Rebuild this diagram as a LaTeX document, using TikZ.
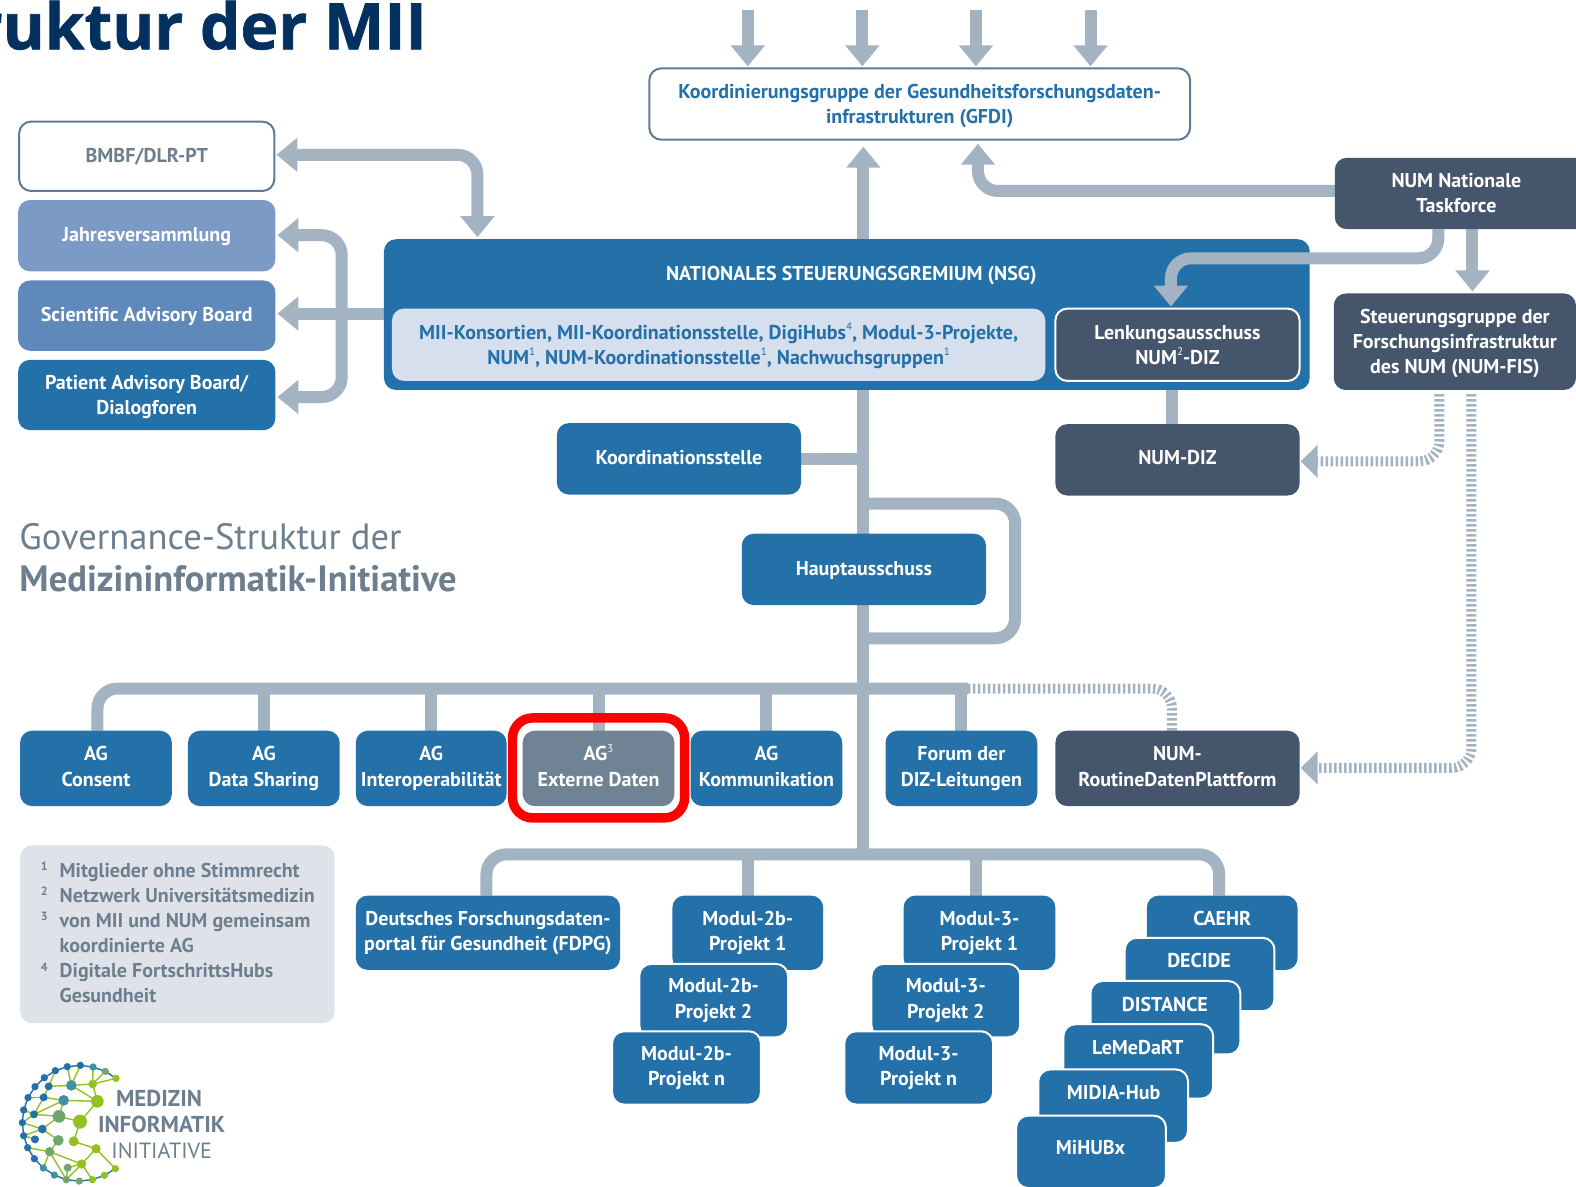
\documentclass[tikz,border=0pt]{standalone}
\usepackage{fontspec}
\setmainfont{PT Sans}
\newfontfamily\ttlfont[BoldFeatures={FakeBold=1}]{Open Sans}
\usetikzlibrary{arrows.meta,backgrounds}
\definecolor{mblue}{HTML}{2470A9}
\definecolor{mdark}{HTML}{45556C}
\definecolor{mgrey}{HTML}{6F8395}
\definecolor{mconn}{HTML}{A3B3C2}
\definecolor{mtext}{HTML}{6D7F8F}
\definecolor{mnavy}{HTML}{03305F}
\definecolor{mpale}{HTML}{D5DFEE}
\definecolor{mnote}{HTML}{DFE3E9}
\definecolor{mjahr}{HTML}{7C9AC6}
\definecolor{msab}{HTML}{5F88BB}
\definecolor{mline}{HTML}{5F7B93}
\definecolor{lteal}{HTML}{43909F}
\definecolor{lsage}{HTML}{6FA56F}
\definecolor{llime}{HTML}{94C11F}
\newcommand{\mys}{\rule{0pt}{9.5pt}}
\newcommand{\mye}{\rule[-3.5pt]{0pt}{1pt}}
\newcommand{\mya}{\rule[-2.5pt]{0pt}{1pt}}
\newcommand{\lft}{\rule[-4.5pt]{0pt}{1pt}}
\newcommand{\sups}[1]{\smash{\raisebox{0.42em}{\fontsize{5.5}{5.5}\selectfont\mdseries #1}}}
\newcommand{\bx}[7][]{%
  \pgfmathsetmacro{\cxx}{(#3+#5)/2}%
  \pgfmathsetmacro{\cyy}{(#4+#6)/2}%
  \pgfmathsetmacro{\www}{(#5-#3)*0.5025}%
  \pgfmathsetmacro{\hhh}{(#6-#4)*0.5025}%
  \node[basebox,minimum width=\www pt,minimum height=\hhh pt,#1] (#2) at (\cxx,\cyy) {#7};}
\tikzset{
  basebox/.style={rounded corners=6pt,inner sep=0pt,outer sep=0pt,align=center,text=white,fill=mblue,
    font=\fontsize{10}{12.6}\selectfont\bfseries},
  lbl/.style={text=white,inner sep=0pt,align=center,font=\fontsize{10}{12.6}\selectfont\bfseries},
  darkbox/.style={fill=mdark},
  wbord/.style={draw=white,line width=1pt},
  conn/.style={draw=mconn,line width=6pt,rounded corners=10pt},
  arr/.style={conn,-{Triangle[width=16.5pt,length=10.5pt]},shorten >=1pt},
  arrb/.style={conn,{Triangle[width=16.5pt,length=10.5pt]}-{Triangle[width=16.5pt,length=10.5pt]},shorten >=1pt,shorten <=1pt},
  stripe/.style={draw=mconn,line width=5pt,rounded corners=10pt,dash pattern=on 1.25pt off 1.25pt},
  striparr/.style={stripe,-{Triangle[width=16pt,length=8.5pt]},shorten >=0.5pt},
}
\begin{document}
\begin{tikzpicture}[x=0.5025pt,y=-0.5025pt]
\useasboundingbox (0,0) rectangle (1568,1180);
\clip (0,0) rectangle (1568,1180);
% title
\node[anchor=base east,inner sep=0pt,text=mnavy,font=\fontsize{32}{33}\selectfont\ttlfont\bfseries] (maintitle) at (425,49) {ruktur der MII};
\node[anchor=base west,inner sep=0pt,text=mtext,font=\fontsize{18.3}{20}\selectfont] (sub1) at (19,547) {Governance-Struktur der};
\node[anchor=base west,inner sep=0pt,text=mtext,font=\fontsize{18.3}{20}\selectfont\bfseries] (sub2) at (19,588) {Medizininformatik-Initiative};
% boxes
\bx[fill=white,draw=mline,line width=1pt,text=mblue]{gfdi}{646}{68}{1184}{139}{\mys Koordinierungsgruppe der Gesundheitsforschungsdaten-\\infrastrukturen (GFDI)\mya}
\bx[fill=white,draw=mline,line width=1pt,text=mtext]{bmbf}{19}{121}{273}{190}{\mys BMBF/DLR-PT\mye}
\bx[fill=mjahr]{jahr}{18}{199}{274}{270}{\mys Jahresversammlung\mye}
\bx[fill=msab]{sab}{18}{279}{274}{349}{\mys Scientific Advisory Board\mye}
\bx{pab}{18}{358}{274}{428}{\mys Patient Advisory Board/\\Dialogforen\mya}
\bx{nsg}{382}{238}{1303}{388}{}
\node[lbl] (nsgtitle) at (847,274) {NATIONALES STEUERUNGSGREMIUM (NSG)};
\bx[fill=mpale,text=mblue]{mem}{390}{307}{1040}{379}{\mys MII-Konsortien, MII-Koordinationsstelle, DigiHubs\sups{4}, Modul-3-Projekte,\\NUM\sups{1}, NUM-Koordinationsstelle\sups{1}, Nachwuchsgruppen\sups{1}\mya}
\bx[darkbox,wbord]{lenk}{1050}{307}{1293}{379}{\mys Lenkungsausschuss\\NUM\sups{2}-DIZ\mya}
\bx[darkbox]{task}{1328}{157}{1580}{228}{}
\node[lbl] (tasklabel) at (1449,193) {\mys NUM Nationale\\Taskforce\mye};
\bx[darkbox]{fis}{1327}{292}{1568}{388}{\mys Steuerungsgruppe der\\Forschungsinfrastruktur\\des NUM (NUM-FIS)\mya}
\bx{koord}{554}{421}{797}{492}{\mys Koordinationsstelle\mye}
\bx[darkbox]{diz}{1050}{422}{1293}{493}{\mys NUM-DIZ\lft}
\bx{haupt}{738}{531}{981}{602}{\mys Hauptausschuss\mye}
\bx{ag1}{20}{727}{171}{802}{\mys AG\\Consent\lft}
\bx{ag2}{187}{727}{338}{802}{\mys AG\\Data Sharing\lft}
\bx{ag3}{354}{727}{504}{802}{\mys AG\\Interoperabilität\lft}
\bx[fill=mgrey]{ag4}{520}{727}{671}{802}{\mys AG\sups{3}\\Externe Daten\lft}
\node[draw=red,line width=4.7pt,rounded corners=10pt,inner sep=0pt,minimum width=86pt,minimum height=50pt] (hilite) at (595.5,764) {};
\bx{ag5}{687}{727}{838}{802}{\mys AG\\Kommunikation\lft}
\bx{forum}{881}{727}{1032}{802}{\mys Forum der\\DIZ-Leitungen\lft}
\bx[darkbox]{rdp}{1050}{727}{1293}{802}{\mys NUM-\\RoutineDatenPlattform\lft}
% footnotes
\bx[fill=mnote]{notes}{20}{841}{333}{1018}{}
\node[anchor=north west,align=left,inner sep=0pt,text=mtext,font=\fontsize{10}{12.56}\selectfont\bfseries] (notetext) at (59,858) {Mitglieder ohne Stimmrecht\\Netzwerk Universitätsmedizin\\von MII und NUM gemeinsam\\koordinierte AG\\Digitale FortschrittsHubs\\Gesundheit};
\tikzset{notenum/.style={inner sep=0pt,text=mtext,font=\fontsize{6}{6}\selectfont\bfseries}}
\node[notenum] (n1) at (44,862) {1};
\node[notenum] (n2) at (44,887) {2};
\node[notenum] (n3) at (44,912) {3};
\node[notenum] (n4) at (44,962) {4};
% lower blocks
\bx{fdpg}{354}{891}{617}{965}{\mys Deutsches Forschungsdaten-\\portal für Gesundheit (FDPG)\lft}
\bx{m2a}{669}{891}{819}{965}{\mys Modul-2b-\\Projekt 1\lft}
\bx[wbord]{m2b}{636}{959}{784}{1032}{\mys Modul-2b-\\Projekt 2\lft}
\bx[wbord]{m2n}{609}{1026}{757}{1099}{\mys Modul-2b-\\Projekt n\lft}
\bx{m3a}{899}{891}{1050}{965}{\mys Modul-3-\\Projekt 1\lft}
\bx[wbord]{m3b}{867}{959}{1015}{1032}{\mys Modul-3-\\Projekt 2\lft}
\bx[wbord]{m3n}{840}{1026}{988}{1099}{\mys Modul-3-\\Projekt n\lft}
\bx{caehr}{1141}{891}{1291}{965}{}
\node[lbl] (caehrl) at (1216,914) {CAEHR};
\bx[wbord]{decide}{1119}{933}{1268}{1006}{}
\node[lbl] (decidel) at (1193,956) {DECIDE};
\bx[wbord]{distance}{1085}{976}{1234}{1049}{}
\node[lbl] (distl) at (1159,999) {DISTANCE};
\bx[wbord]{lemed}{1058}{1019}{1207}{1093}{}
\node[lbl] (lemedl) at (1132,1042) {LeMeDaRT};
\bx[wbord]{midia}{1033}{1064}{1182}{1137}{}
\node[lbl] (midial) at (1108,1087) {MIDIA-Hub};
\bx[wbord]{mihub}{1011}{1110}{1160}{1182}{}
\node[lbl] (mihubl) at (1085,1142) {MiHUBx};
% free ends and way points
\coordinate (t1) at (744,10);
\coordinate (t2) at (858,10);
\coordinate (t3) at (971,10);
\coordinate (t4) at (1085,10);
\coordinate (tx) at (859,0);
\coordinate (busa) at (0,685);
\coordinate (busb) at (0,850);
\begin{scope}[on background layer]
\draw[arr] (t1) -- (t1 |- gfdi.north);
\draw[arr] (t2) -- (t2 |- gfdi.north);
\draw[arr] (t3) -- (t3 |- gfdi.north);
\draw[arr] (t4) -- (t4 |- gfdi.north);
\draw[arr,shorten >=3.5pt] (nsg.north -| tx) -- (gfdi.south -| tx);
\draw[arr,shorten >=2pt] (task.west |- 0,190) -- (973,190) -- (973,139);
\draw[arrb] (bmbf.east |- 0,154) -- (475,154) -- (475,238);
\draw[arrb] (jahr.east |- 0,234) -- (340,234) -- (340,395) -- (pab.east |- 0,395);
\draw[arr] (nsg.west |- 0,312) -- (sab.east |- 0,312);
\draw[arr] (1465,228) -- (1465,292);
\draw[conn] (1166,379) -- (1166,422);
\draw[conn] (nsg.south -| tx) -- (tx |- busb);
\draw[conn] (koord.east) -- (koord.east -| tx);
\draw[conn] (859,501) -- (1010,501) -- (1010,635) -- (859,635);
\draw[conn] (ag1.north -| 0,0) ++(97,0) -- (97,685) -- (963,685);
\draw[conn] (ag2.north) -- (ag2.north |- busa);
\draw[conn] (ag3.north) -- (ag3.north |- busa);
\draw[conn] (ag4.north) -- (ag4.north |- busa);
\draw[conn] (ag5.north) -- (ag5.north |- busa);
\draw[conn] (forum.north) -- (forum.north |- busa);
\draw[conn] (484,891) -- (484,850) -- (1213,850) -- (1213,891);
\draw[conn] (m2a.north) -- (m2a.north |- busb);
\draw[conn] (971,891) -- (971,850);
\draw[stripe] (963,685) -- (1166,685) -- (rdp.north -| 1166,0);
\draw[striparr] (1432,392) -- (1432,459) -- (diz.east |- 0,459);
\draw[striparr] (1464,392) -- (1464,764) -- (rdp.east |- 0,764);
\end{scope}
% this connector runs over the NSG block
\draw[arr] (1431,228) -- (1431,257) -- (1165,257) -- (1165,307);
% logo
\begin{scope}[shift={(0,1024.77)},x=0.16667pt,y=-0.16667pt]
\foreach \a/\b/\c/\d in {214/166/278/162,278/162/348/145,278/162/316/124,279/111/278/162,214/166/241/106,214/166/202/110,214/166/292/214,278/162/292/214,191/211/292/214,292/214/240/275,177/259/240/275,191/211/177/259,146/169/214/166,146/169/166/122,131/202/191/211,131/202/146/169,102/253/177/259,84/203/131/202,102/253/131/202,71/240/102/253,67/278/102/253,67/278/127/297,127/297/177/259,71/317/127/297,127/297/175/331,105/328/71/317,83/353/149/365,149/365/175/331,149/365/245/402,221/334/288/356,288/356/245/402,288/356/346/416,245/402/203/413,245/402/277/449,245/402/199/449,149/365/199/449,203/413/199/449,149/365/130/414,240/275/221/334,102/253/191/211}
  \draw[llime,line width=0.7pt] (\a,\b) -- (\c,\d);
\draw[mblue,line width=0.7pt] (348,145) -- (316,124) -- (279,111) -- (241,106) -- (202,110) -- (166,122) -- (133,143) -- (105,170) -- (84,203) -- (71,240) -- (67,278) -- (71,317) -- (83,353) -- (103,386) -- (130,414) -- (163,435) -- (199,449) -- (238,453) -- (277,449) -- (313,436) -- (346,416);
\foreach \a/\b/\r in {202/110/11,241/106/11,166/122/11,133/143/11,105/170/11,146/169/12,84/203/11,131/202/12,71/240/11,102/253/12,67/278/11,127/297/13,71/317/11,105/328/12,83/353/11,103/386/11}
  \fill[mblue] (\a,\b) circle[radius=\r];
\foreach \a/\b/\r in {279/111/11,214/166/16,191/211/16,130/414/11,163/435/11}
  \fill[lteal] (\a,\b) circle[radius=\r];
\foreach \a/\b/\r in {316/124/11,177/259/19,175/331/16,149/365/14,203/413/12,199/449/11,238/453/11}
  \fill[lsage] (\a,\b) circle[radius=\r];
\foreach \a/\b/\r in {348/145/11,278/162/13,292/214/19,240/275/21,221/334/15,288/356/14,245/402/14,346/416/11,313/436/11,277/449/11}
  \fill[llime] (\a,\b) circle[radius=\r];
\node[anchor=base west,inner sep=0pt,text=mtext,font=\fontsize{11.5}{11}\selectfont\bfseries] (lg1) at (347,229) {MEDIZIN};
\node[anchor=base west,inner sep=0pt,text=mtext,font=\fontsize{11.5}{11}\selectfont\bfseries] (lg2) at (293,306) {INFORMATIK};
\node[anchor=base west,inner sep=0pt,text=mtext,font=\fontsize{11}{11}\selectfont] (lg3) at (333,384) {INITIATIVE};
\end{scope}
\end{tikzpicture}
\end{document}
